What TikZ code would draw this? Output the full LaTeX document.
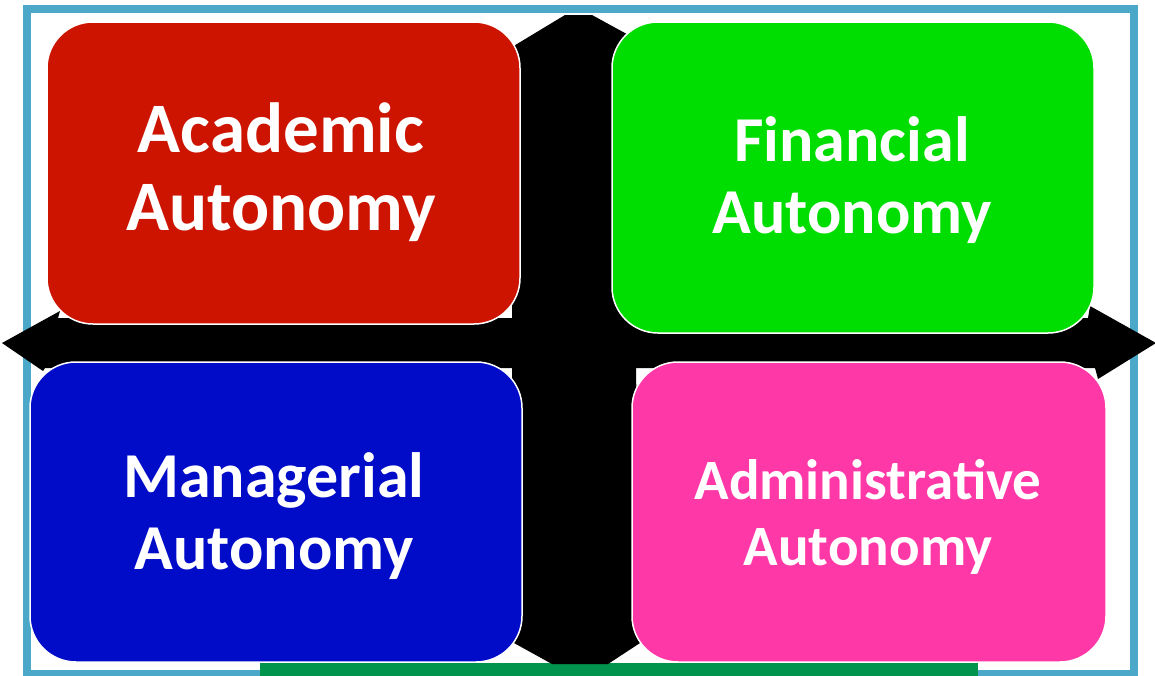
\documentclass[tikz,border=0pt]{standalone}
\usepackage{fontspec}
\setmainfont{Carlito}
\definecolor{framec}{RGB}{75,168,200}
\definecolor{barc}{RGB}{0,148,76}
\definecolor{redc}{RGB}{204,20,0}
\definecolor{greenc}{RGB}{0,221,0}
\definecolor{bluec}{RGB}{0,12,200}
\definecolor{pinkc}{RGB}{255,56,168}
\tikzset{
  quad/.style={draw=white, line width=1.5pt, rounded corners=46pt},
  lbl/.style={text=white, font=\bfseries, align=center, inner sep=0pt}
}
\begin{document}
\begin{tikzpicture}[x=1pt,y=-1pt]
\useasboundingbox (0,0) rectangle (1155,675);
\fill[white] (0,0) rectangle (1155,675);
% frame
\draw[framec, line width=8pt] (27,8.5) -- (1134,8.5) -- (1134,674) -- (27,674) -- cycle;
% green bar at the bottom
\fill[barc] (260,663) rectangle (978,676);
% four-headed cross
\fill[black] (565,15) -- (592,15) -- (634,38) -- (636,318) -- (1088,318)
  -- (1090,306) -- (1156,343) -- (1098,379) -- (1095,368) -- (636,368) -- (640,643)
  -- (608,664) -- (552,664) -- (514,643) -- (512,368)
  -- (45,368) -- (43,371) -- (2,343) -- (60,311) -- (58,318) -- (512,318)
  -- (512,47) -- cycle;
% boxes
\draw[quad, fill=redc] (47,22) rectangle (520,324);
\draw[quad, fill=greenc] (612,22) rectangle (1094,333);
\draw[quad, fill=bluec] (30,362) rectangle (522,662);
\draw[quad, fill=pinkc] (632,362) rectangle (1106,662);
% labels
\node[lbl, font=\bfseries\fontsize{71}{78}\selectfont] (acad) at (281,172) {Academic\\Autonomy};
\node[lbl, font=\bfseries\fontsize{64}{72}\selectfont] (fin) at (852,180) {Financial\\Autonomy};
\node[lbl, font=\bfseries\fontsize{64}{72}\selectfont] (man) at (274,516) {Managerial\\Autonomy};
\node[lbl, font=\bfseries\fontsize{57}{66}\selectfont] (adm) at (868,517) {Administrative\\Autonomy};
\end{tikzpicture}
\end{document}
